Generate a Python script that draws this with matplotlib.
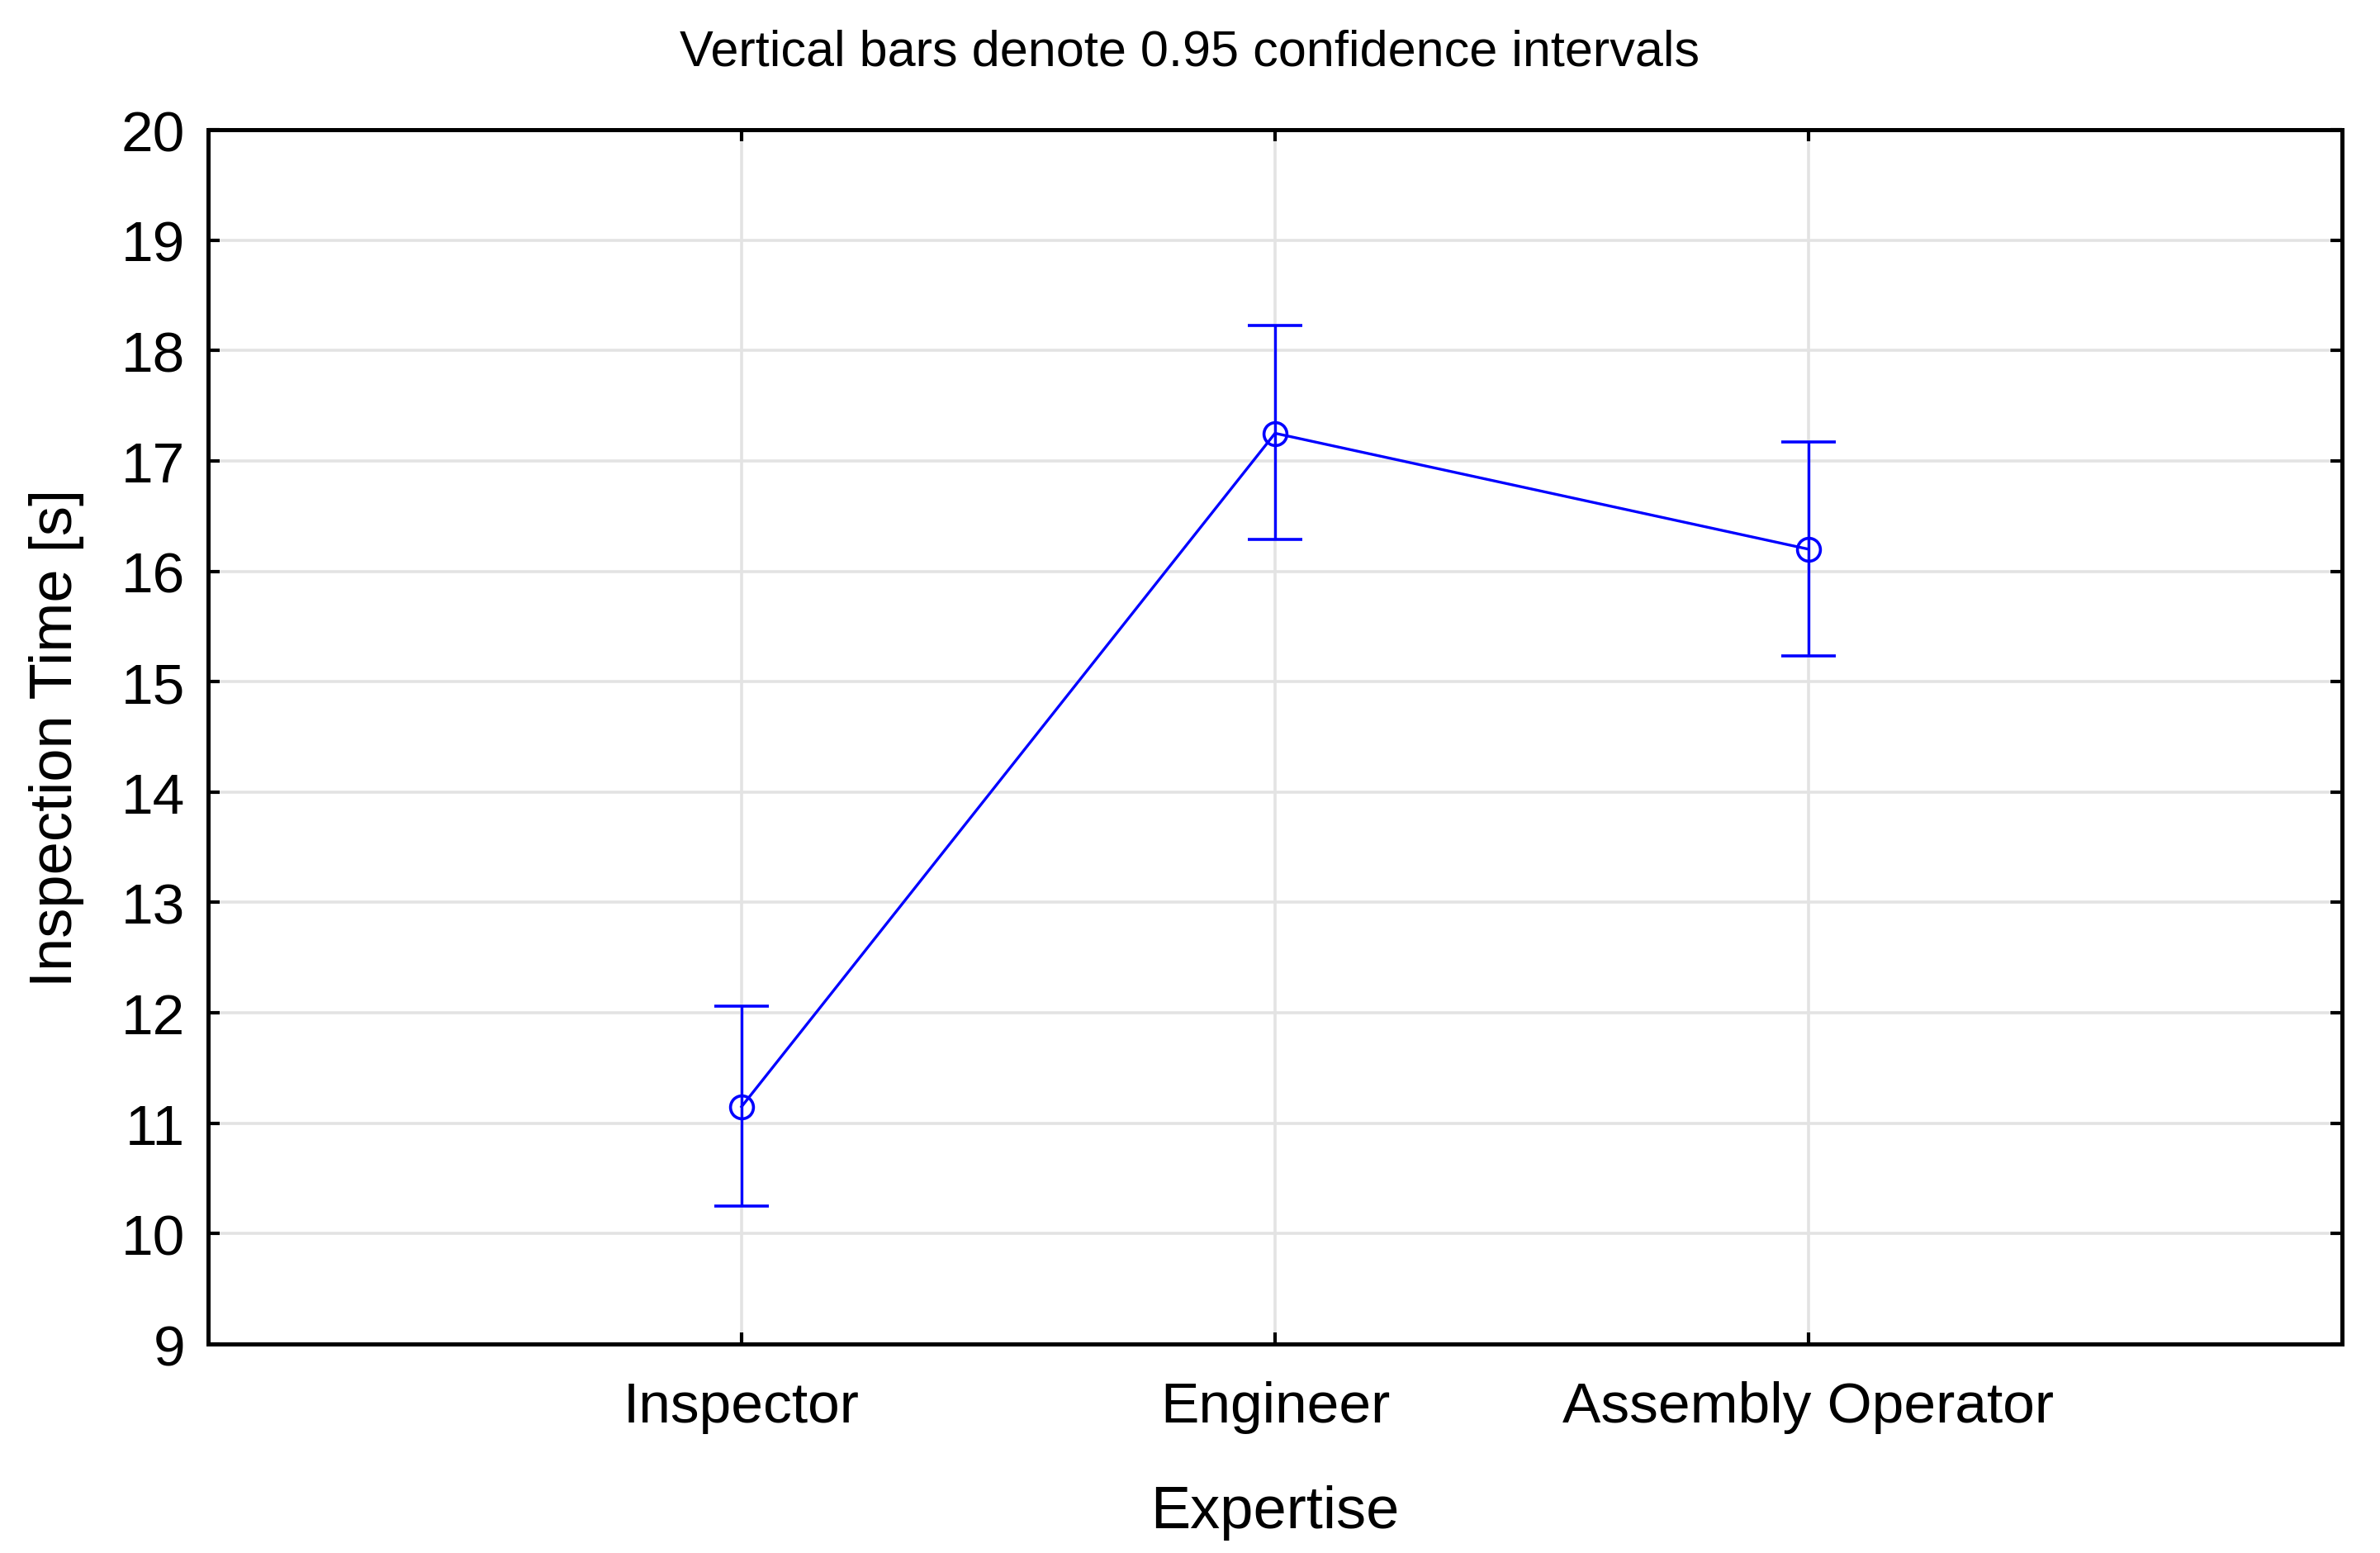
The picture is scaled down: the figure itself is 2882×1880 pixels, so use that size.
import matplotlib
matplotlib.use("Agg")
import matplotlib.pyplot as plt

# group means and 0.95 confidence limits
groups = ["Inspector", "Engineer", "Assembly Operator"]
means = [11.15, 17.25, 16.20]
ci_low = [10.25, 16.29, 15.23]
ci_high = [12.06, 18.23, 17.17]
y_ticks = [9, 10, 11, 12, 13, 14, 15, 16, 17, 18, 19, 20]

plt.rcParams["font.family"] = ["Liberation Sans", "DejaVu Sans"]

W, H, DPI = 2882, 1881, 200
fig = plt.figure(figsize=(W / DPI, H / DPI), dpi=DPI)
ax = fig.add_axes([252 / W, 1 - 1628 / H, (2836 - 252) / W, (1628 - 158) / H])

x = list(range(1, len(groups) + 1))
err_lo = [m - lo for m, lo in zip(means, ci_low)]
err_hi = [hi - m for m, hi in zip(means, ci_high)]

ax.errorbar(x, means, yerr=[err_lo, err_hi], color="#0000ff", lw=1.2,
            elinewidth=1.2, capsize=12, capthick=1.2, marker="o",
            markersize=10, markerfacecolor="none", markeredgewidth=1.3,
            zorder=3)

ax.set_xlim(0, len(groups) + 1)
ax.set_ylim(9, 20)
ax.set_xticks(x)
ax.set_xticklabels(groups)
ax.set_yticks(y_ticks)

ax.grid(True, color="#e3e3e3", lw=1.3, zorder=0)
ax.set_axisbelow(True)
for s in ax.spines.values():
    s.set_linewidth(1.8)
ax.tick_params(direction="in", length=5, width=1.5, top=True, right=True,
               labelsize=25)
ax.tick_params(axis="x", pad=16)
ax.tick_params(axis="y", pad=10)

ax.set_xlabel("Expertise", fontsize=26, labelpad=22)
ax.set_ylabel("Inspection Time [s]", fontsize=26, labelpad=16)

fig.text(0.5, 1 - 80 / H, "Vertical bars denote 0.95 confidence intervals",
         ha="center", va="baseline", fontsize=22)

fig.savefig("out.png", dpi=DPI)
